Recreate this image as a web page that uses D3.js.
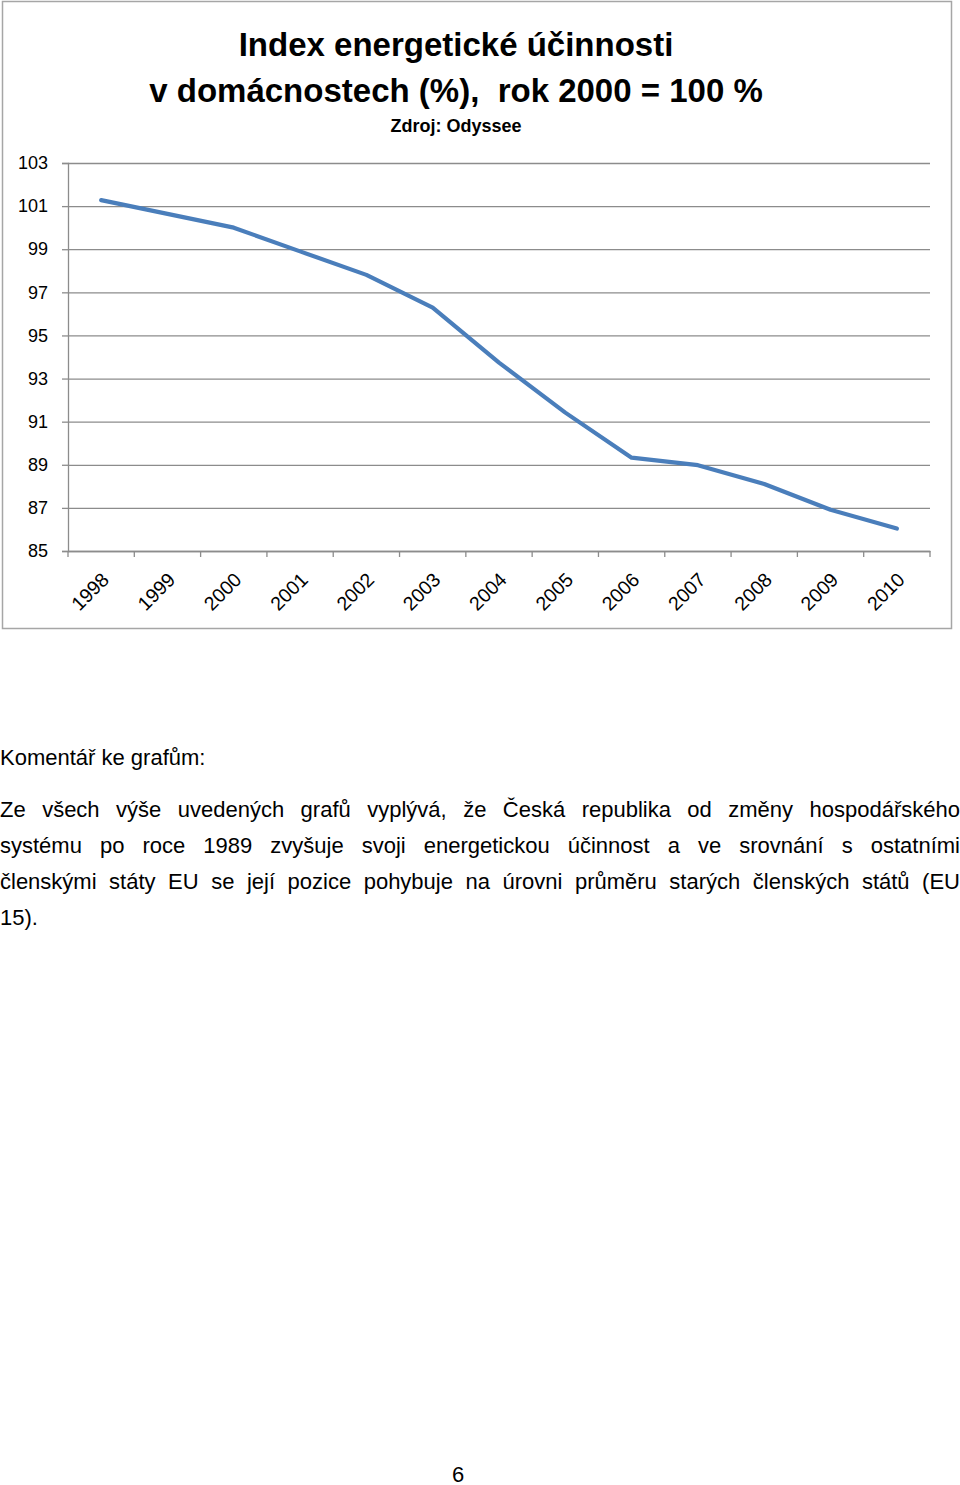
<!DOCTYPE html>
<html><head><meta charset="utf-8">
<script src="https://cdn.jsdelivr.net/npm/d3@7"></script>
<style>
html,body{margin:0;padding:0;background:#fff;}
body{width:960px;height:1485px;position:relative;overflow:hidden;font-family:"Liberation Sans Narrow","Arial Narrow","Liberation Sans",sans-serif;}
#chart{position:absolute;left:0;top:0;}
.para{position:absolute;left:0;width:960px;font-size:22px;color:#000;white-space:nowrap;}
.just{text-align:justify;text-align-last:justify;white-space:normal;}
</style></head>
<body>
<svg id="chart" width="960" height="640"></svg>
<div class="para" style="top:745px">Komentář ke grafům:</div>
<div class="para just" style="top:797px">Ze všech výše uvedených grafů vyplývá, že Česká republika od změny hospodářského</div>
<div class="para just" style="top:833px">systému po roce 1989 zvyšuje svoji energetickou účinnost a ve srovnání s&nbsp;ostatními</div>
<div class="para just" style="top:869px">členskými státy EU se její pozice pohybuje na úrovni průměru starých členských států (EU</div>
<div class="para" style="top:905px">15).</div>
<div class="para" style="top:1462px;left:452px;width:auto">6</div>
<script>
const years = ["1998","1999","2000","2001","2002","2003","2004","2005","2006","2007","2008","2009","2010"];
const values = [101.28,100.64,100.0,98.9,97.81,96.29,93.74,91.42,89.33,88.98,88.11,86.91,86.04];
const yTicks = [85,87,89,91,93,95,97,99,101,103];
const titleLines = ["Index energetické účinnosti","v domácnostech (%),  rok 2000 = 100 %"];
const subtitle = "Zdroj: Odyssee";

const svg = d3.select("#chart");
const font = '"Liberation Sans Narrow","Arial Narrow","Liberation Sans",sans-serif';
const L=68,R=930,T=163,B=551;

svg.append("rect").attr("x",2.5).attr("y",1.5).attr("width",949).attr("height",627)
  .attr("fill","#fff").attr("stroke","#a6a6a6").attr("stroke-width",1.5);

const x = d3.scaleBand().domain(years).range([L,R]);
const y = d3.scaleLinear().domain([85,103]).range([B,T]);

// gridlines
svg.append("g").attr("transform",`translate(${L},0)`)
  .call(d3.axisLeft(y).tickValues(yTicks).tickSize(-(R-L)).tickFormat(""))
  .call(g=>g.select(".domain").remove())
  .call(g=>g.selectAll("line").attr("stroke","#8c8c8c").attr("stroke-width",1.3));

// y axis
const ya = svg.append("g").attr("transform",`translate(${L},0)`)
  .call(d3.axisLeft(y).tickValues(yTicks).tickSize(6).tickPadding(14))
  .call(g=>g.select(".domain").attr("stroke","#8c8c8c").attr("stroke-width",1.3))
  .call(g=>g.selectAll("line").attr("stroke","#8c8c8c").attr("stroke-width",1.3));
ya.selectAll("text").attr("font-family",font).attr("font-size",18).attr("fill","#000");

// x axis
const xa = svg.append("g").attr("transform",`translate(0,${B})`)
  .call(d3.axisBottom(x).tickSize(0).tickPadding(0))
  .call(g=>g.select(".domain").attr("stroke","#8c8c8c").attr("stroke-width",1.3));
xa.selectAll(".tick text").attr("font-family",font).attr("font-size",19.5).attr("fill","#000")
  .attr("text-anchor","end").attr("dy",0)
  .attr("transform","translate(9,30) rotate(-45)");
// boundary ticks
const bounds = years.map(d=>x(d)).concat([x(years[years.length-1])+x.step()]);
svg.append("g").selectAll("line").data(bounds).join("line")
  .attr("x1",d=>d).attr("x2",d=>d).attr("y1",B).attr("y2",B+6)
  .attr("stroke","#8c8c8c").attr("stroke-width",1.3);

// line
const line = d3.line().x((d,i)=>x(years[i])+x.bandwidth()/2).y(d=>y(d));
svg.append("path").datum(values).attr("d",line).attr("fill","none")
  .attr("stroke","#4a7ebb").attr("stroke-width",4.2).attr("stroke-linejoin","round").attr("stroke-linecap","round");

// titles
svg.append("text").attr("x",456).attr("y",56).attr("text-anchor","middle")
  .attr("font-family",font).attr("font-weight","bold").attr("font-size",33).text(titleLines[0]);
svg.append("text").attr("x",456).attr("y",102).attr("text-anchor","middle").style("white-space","pre")
  .attr("font-family",font).attr("font-weight","bold").attr("font-size",33).text(titleLines[1]);
svg.append("text").attr("x",456).attr("y",132).attr("text-anchor","middle")
  .attr("font-family",font).attr("font-weight","bold").attr("font-size",18).text(subtitle);
</script>
</body></html>
